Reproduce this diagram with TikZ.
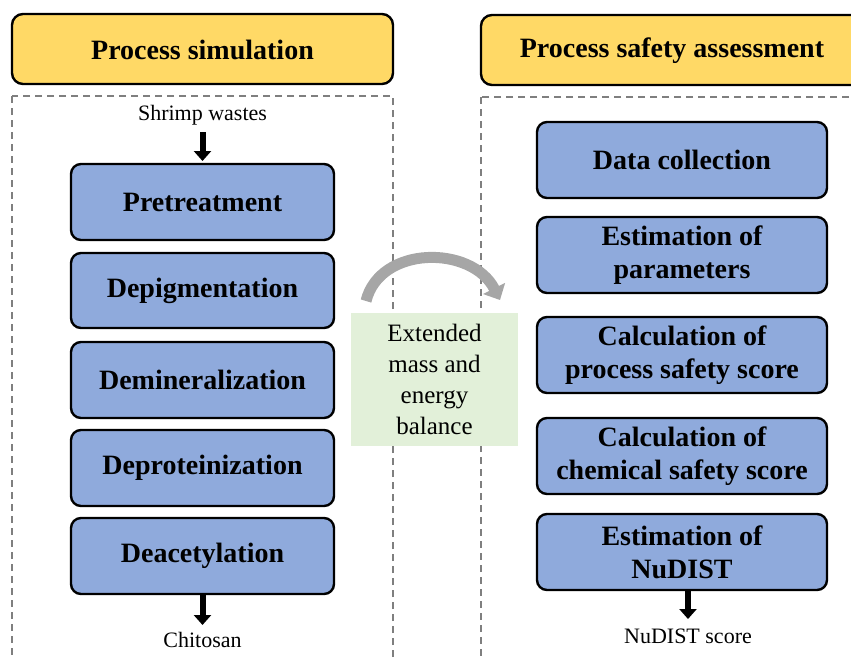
\documentclass[tikz,border=0pt]{standalone}
\usepackage{fontspec}
\setmainfont{Liberation Serif}
\usetikzlibrary{arrows.meta}
\definecolor{headyellow}{HTML}{FFD966}
\definecolor{stepblue}{HTML}{8FAADC}
\definecolor{notegreen}{HTML}{E2F0D9}
\definecolor{frame}{HTML}{7F7F7F}
\begin{document}
\begin{tikzpicture}[x=1pt,y=-1pt,
  header/.style={draw=black, line width=2.4pt, fill=headyellow, rounded corners=11pt},
  headtext/.style={font=\fontsize{28}{32}\selectfont\bfseries, inner sep=0pt},
  stepbox/.style={draw=black, line width=2.4pt, fill=stepblue, rounded corners=10pt,
    font=\fontsize{28}{33}\selectfont\bfseries, align=center, inner sep=0pt},
  area/.style={draw=frame, line width=1.3pt, dash pattern=on 7pt off 5pt},
  flow/.style={line width=6pt, -{Triangle[width=17pt,length=10pt]}},
  plain/.style={font=\fontsize{22}{26}\selectfont, inner sep=0pt}
]
\useasboundingbox (0,0) rectangle (851,657);
\clip (0,0) rectangle (851,657);

% column frames
\draw[area] (12,96) rectangle (393,720);
\draw[area] (481,97) rectangle (900,720);

% column headers
\draw[header] (12,14) rectangle (393,84);
\node[headtext] (h1) at (202.5,50) {Process simulation};
\draw[header] (481,15) rectangle (905,85);
\node[headtext] (h2) at (672,51) {Process safety assessment};

% process simulation steps
\node[stepbox, minimum width=263pt, minimum height=76pt] (p1) at (202.5,202) {Pretreatment};
\node[stepbox, minimum width=263pt, minimum height=75pt] (p2) at (202.5,290.5) {Depigmentation};
\node[stepbox, minimum width=263pt, minimum height=76pt] (p3) at (202.5,380) {Demineralization};
\node[stepbox, minimum width=263pt, minimum height=76pt] (p4) at (202.5,468) {Deproteinization};
\node[stepbox, minimum width=263pt, minimum height=76pt] (p5) at (202.5,556) {Deacetylation};

\node[plain] (in) at (202.5,115) {Shrimp wastes};
\node[plain] (out) at (202.5,640) {Chitosan};
\coordinate (inend) at (202.5,161);
\coordinate (outend) at (202.5,625);
\draw[flow] (202.5,132) -- (inend);
\draw[flow] (p5.south) -- (outend);

% safety assessment steps
\node[stepbox, minimum width=290pt, minimum height=76pt] (s1) at (682,160) {Data collection};
\node[stepbox, minimum width=290pt, minimum height=76pt] (s2) at (682,255) {Estimation of\\parameters};
\node[stepbox, minimum width=290pt, minimum height=76pt] (s3) at (682,355) {Calculation of\\process safety score};
\node[stepbox, minimum width=290pt, minimum height=76pt] (s4) at (682,456) {Calculation of\\chemical safety score};
\node[stepbox, minimum width=290pt, minimum height=76pt] (s5) at (682,552) {Estimation of\\NuDIST};

\node[plain] (score) at (688,636) {NuDIST score};
\coordinate (scoreend) at (688,619);
\draw[flow] (s5.south -| scoreend) -- (scoreend);

% link between the two columns
\node[fill=notegreen, minimum width=167pt, minimum height=133pt, inner sep=0pt,
  align=center, font=\fontsize{25}{31}\selectfont] (link) at (434.5,379.5)
  {Extended\\mass and\\energy\\balance};
\coordinate (arcA) at (366,301);
\coordinate (arcB) at (500,300);
\draw[line width=11pt, gray!70, -{Triangle[width=24pt,length=13pt]}]
  (arcA) .. controls (380,245) and (472,245) .. (arcB);
\end{tikzpicture}
\end{document}
